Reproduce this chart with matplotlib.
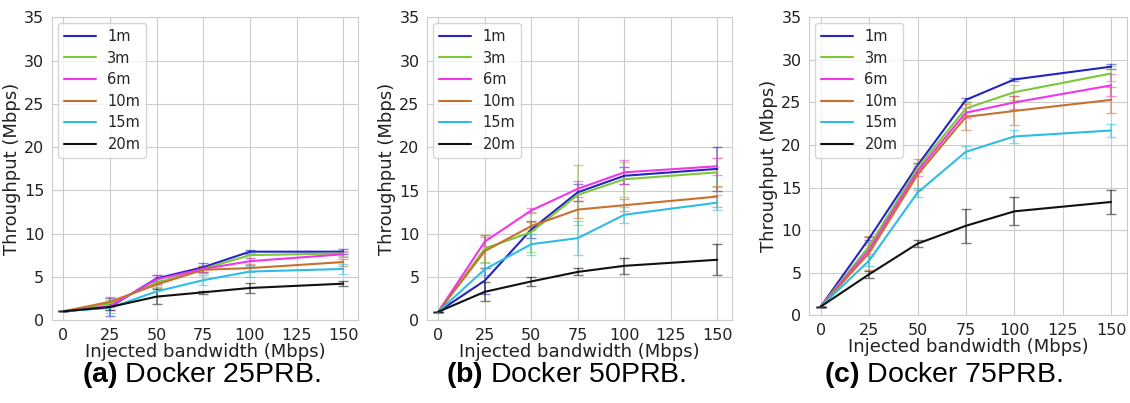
import numpy as np
import matplotlib
matplotlib.use("Agg")
import matplotlib.pyplot as plt
import seaborn as sns

# Injected bandwidth (Mbps)
bw = [0, 25, 50, 75, 100, 150]
labels = ["1m", "3m", "6m", "10m", "15m", "20m"]
colors = ["#2424c4", "#7cc83a", "#f035ea", "#c8702e", "#2ebde2", "#111111"]

# Docker 25PRB: mean throughput and error
tp_25 = [
    [1.0, 1.5, 4.8, 6.1, 7.9, 7.9],
    [1.0, 1.9, 4.3, 5.9, 7.5, 7.7],
    [1.0, 1.6, 4.7, 5.9, 6.8, 7.6],
    [1.0, 2.1, 4.1, 5.8, 6.0, 6.7],
    [1.0, 1.4, 3.3, 4.6, 5.6, 5.9],
    [1.0, 1.5, 2.7, 3.2, 3.7, 4.2],
]
err_25 = [
    [0, 1.0, 0.4, 0.5, 0.25, 0.3],
    [0, 0.4, 0.3, 0.4, 0.3, 0.3],
    [0, 0.5, 0.5, 0.4, 0.4, 0.3],
    [0, 0.5, 0.4, 0.4, 0.5, 0.4],
    [0, 0.6, 0.5, 0.6, 0.6, 0.6],
    [0, 0.3, 0.9, 0.15, 0.6, 0.3],
]

# Docker 50PRB
tp_50 = [
    [1.0, 4.6, 10.5, 14.8, 16.7, 17.5],
    [1.0, 8.3, 10.2, 14.5, 16.3, 17.1],
    [1.0, 9.1, 12.7, 15.2, 17.1, 17.8],
    [1.0, 8.0, 10.9, 12.8, 13.3, 14.3],
    [1.0, 5.9, 8.8, 9.5, 12.2, 13.6],
    [1.0, 3.3, 4.5, 5.6, 6.3, 7.0],
]
err_50 = [
    [0, 1.5, 1.0, 1.0, 1.0, 2.5],
    [0, 1.6, 2.3, 3.5, 2.0, 1.7],
    [0, 0.5, 0.3, 0.9, 1.4, 1.0],
    [0, 1.9, 0.5, 1.0, 0.7, 1.2],
    [0, 0.7, 1.2, 2.0, 0.9, 0.9],
    [0, 1.1, 0.5, 0.4, 0.9, 1.8],
]

# Docker 75PRB
tp_75 = [
    [1.0, 9.0, 17.6, 25.3, 27.7, 29.2],
    [1.0, 8.1, 17.3, 24.3, 26.2, 28.4],
    [1.0, 7.7, 16.9, 23.8, 25.0, 27.0],
    [1.0, 7.3, 16.5, 23.3, 24.0, 25.3],
    [1.0, 6.4, 14.4, 19.2, 21.0, 21.7],
    [1.0, 4.8, 8.4, 10.5, 12.2, 13.3],
]
err_75 = [
    [0, 0.2, 0.3, 0.2, 0.2, 0.3],
    [0, 0.5, 0.5, 0.8, 0.9, 0.9],
    [0, 0.5, 0.6, 0.6, 0.8, 1.3],
    [0, 2.0, 1.8, 1.5, 1.7, 1.5],
    [0, 0.6, 0.5, 0.7, 0.8, 0.8],
    [0, 0.4, 0.4, 2.0, 1.65, 1.45],
]

captions = [r"$\mathbf{(a)}$ Docker 25PRB.",
            r"$\mathbf{(b)}$ Docker 50PRB.",
            r"$\mathbf{(c)}$ Docker 75PRB."]

sns.set_style("whitegrid")
plt.rcParams["font.family"] = ["DejaVu Sans"]
plt.rcParams["mathtext.fontset"] = "custom"
plt.rcParams["mathtext.rm"] = "Liberation Sans"
plt.rcParams["mathtext.bf"] = "Liberation Sans:bold"

fig = plt.figure(figsize=(11.3, 4.03), dpi=100)
boxes = [
    [0.046, 0.206, 0.271, 0.751],
    [0.378, 0.205, 0.270, 0.752],
    [0.716, 0.218, 0.281, 0.739],
]
cap_x = [0.178, 0.501, 0.835]

for box, tp, err, cap, cx in zip(boxes, [tp_25, tp_50, tp_75],
                                 [err_25, err_50, err_75], captions, cap_x):
    ax = fig.add_axes(box)
    for y, e, c, lab in zip(tp, err, colors, labels):
        ax.plot(bw, y, color=c, lw=1.5, label=lab, zorder=3)
        ax.errorbar(bw, y, yerr=e, fmt="none", ecolor=c, elinewidth=1.2,
                    capsize=3.5, alpha=0.55, zorder=2)
    ax.set_xlim(-6, 158)
    ax.set_ylim(0, 35)
    ax.set_xticks([0, 25, 50, 75, 100, 125, 150])
    ax.set_yticks(range(0, 36, 5))
    ax.tick_params(labelsize=11.5, pad=2, colors="#222222")
    ax.set_xlabel("Injected bandwidth (Mbps)", fontsize=13, labelpad=0, color="#222222")
    ax.set_ylabel("Throughput (Mbps)", fontsize=13, labelpad=2, color="#222222")
    ax.legend(loc="upper left", fontsize=10.5, frameon=True,
              handlelength=2.2, labelspacing=0.45, borderaxespad=0.4)
    for sp in ax.spines.values():
        sp.set_color("#cccccc")

    # panel caption under each plot
    fig.text(cx, 0.069, cap, fontsize=20.5, ha="center", va="center",
             color="black", family=["Liberation Sans", "DejaVu Sans"])

fig.savefig("out.png", dpi=100)
